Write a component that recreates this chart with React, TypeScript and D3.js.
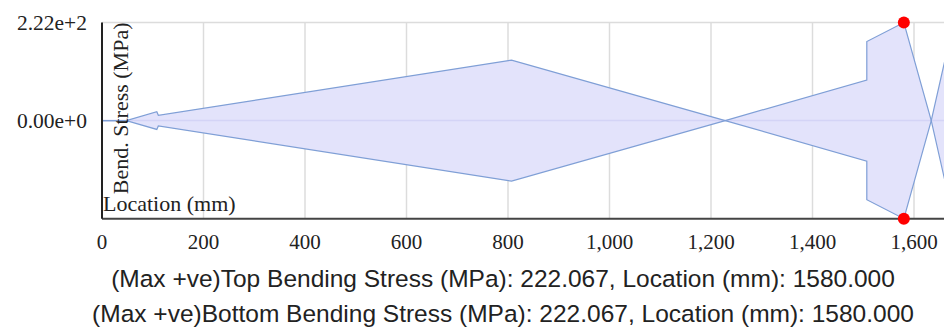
import React, { useRef, useEffect } from 'react'
import * as d3 from 'd3'

// location along the member (mm)
const locations = [0, 48, 108, 111, 807, 1228, 1507, 1507, 1580, 1634, 1662]
// top fibre bending stress (MPa)
const topStress = [0, 0, -20, -12, -137, 0, 92, 179, 222.067, 0, -142]
// bottom fibre bending stress (MPa)
const bottomStress = [0, 0, 20, 12, 137, 0, -92, -179, -222.067, 0, 142]

const yTicks = [0, 222.067]
const xTicks = [0, 200, 400, 600, 800, 1000, 1200, 1400, 1600]

const maxTop = { value: 222.067, location: 1580 }
const maxBottom = { value: 222.067, location: 1580 }

const App = () => {
  const svgRef = useRef<SVGSVGElement>(null)

  useEffect(() => {
    const svg = d3.select(svgRef.current)
    svg.selectAll('*').remove()

    const width = 944
    const height = 330
    const left = 102
    const top = 22.5
    const bottom = 218.7
    const serif = '"Liberation Serif", "Times New Roman", serif'
    const sans = '"Liberation Sans", Arial, sans-serif'

    svg.attr('width', width).attr('height', height)

    const x = d3.scaleLinear().domain([0, 1600]).range([left, 914])
    const y = d3.scaleLinear().domain([-222.067, 222.067]).range([bottom, top])

    // grid
    const grid = svg.append('g')
    grid
      .selectAll('line.vg')
      .data(xTicks.filter(d => d > 0))
      .enter()
      .append('line')
      .attr('x1', d => x(d))
      .attr('x2', d => x(d))
      .attr('y1', top)
      .attr('y2', bottom)
      .attr('stroke', '#dcdcdc')
      .attr('stroke-width', 1.5)
    grid
      .append('line')
      .attr('x1', left)
      .attr('x2', width)
      .attr('y1', y(222.067))
      .attr('y2', y(222.067))
      .attr('stroke', '#dcdcdc')
      .attr('stroke-width', 1.5)

    const pts = (vals: number[]) => locations.map((l, i) => ({ l, v: vals[i] }))
    const area = d3
      .area<{ l: number; v: number }>()
      .x(d => x(d.l))
      .y0(y(0))
      .y1(d => y(d.v))
    const line = d3
      .line<{ l: number; v: number }>()
      .x(d => x(d.l))
      .y(d => y(d.v))

    ;[topStress, bottomStress].forEach(s => {
      svg.append('path').datum(pts(s)).attr('d', area).attr('fill', '#e3e3fb').attr('stroke', 'none')
    })

    // zero line
    svg
      .append('line')
      .attr('x1', left)
      .attr('x2', width)
      .attr('y1', y(0))
      .attr('y2', y(0))
      .attr('stroke', '#d4d4f6')
      .attr('stroke-width', 1.5)

    ;[topStress, bottomStress].forEach(s => {
      svg
        .append('path')
        .datum(pts(s))
        .attr('d', line)
        .attr('fill', 'none')
        .attr('stroke', '#7f9fd6')
        .attr('stroke-width', 1.2)
    })

    // axes
    svg
      .append('line')
      .attr('x1', left)
      .attr('x2', width)
      .attr('y1', bottom)
      .attr('y2', bottom)
      .attr('stroke', '#444')
      .attr('stroke-width', 2)
    svg
      .append('line')
      .attr('x1', left)
      .attr('x2', left)
      .attr('y1', top)
      .attr('y2', bottom)
      .attr('stroke', '#222')
      .attr('stroke-width', 2)

    svg
      .selectAll('text.xt')
      .data(xTicks)
      .enter()
      .append('text')
      .attr('x', d => x(d))
      .attr('y', 249)
      .attr('text-anchor', 'middle')
      .attr('font-family', serif)
      .attr('font-size', 21)
      .attr('fill', '#222')
      .text(d => d3.format(',')(d))

    svg
      .selectAll('text.yt')
      .data(yTicks)
      .enter()
      .append('text')
      .attr('x', 87)
      .attr('y', d => y(d) + 7)
      .attr('text-anchor', 'end')
      .attr('font-family', serif)
      .attr('font-size', 21.5)
      .attr('fill', '#222')
      .text(d => d3.format('.2e')(d))

    // axis titles
    svg
      .append('text')
      .attr('transform', `translate(128, ${top}) rotate(-90)`)
      .attr('text-anchor', 'end')
      .attr('font-family', serif)
      .attr('font-size', 22)
      .attr('fill', '#222')
      .text('Bend. Stress (MPa)')
    svg
      .append('text')
      .attr('x', 103)
      .attr('y', 211)
      .attr('font-family', serif)
      .attr('font-size', 22)
      .attr('fill', '#222')
      .text('Location (mm)')

    // max markers
    svg
      .selectAll('circle.mx')
      .data([
        { l: maxTop.location, v: maxTop.value },
        { l: maxBottom.location, v: -maxBottom.value },
      ])
      .enter()
      .append('circle')
      .attr('cx', d => x(d.l))
      .attr('cy', d => y(d.v))
      .attr('r', 6)
      .attr('fill', '#ff0000')

    // summary
    const fmt = d3.format('.3f')
    svg
      .append('text')
      .attr('x', 503)
      .attr('y', 287)
      .attr('text-anchor', 'middle')
      .attr('font-family', sans)
      .attr('font-size', 24.5)
      .attr('fill', '#222')
      .text(`(Max +ve)Top Bending Stress (MPa): ${fmt(maxTop.value)}, Location (mm): ${fmt(maxTop.location)}`)
    svg
      .append('text')
      .attr('x', 503)
      .attr('y', 322)
      .attr('text-anchor', 'middle')
      .attr('font-family', sans)
      .attr('font-size', 24.5)
      .attr('fill', '#222')
      .text(`(Max +ve)Bottom Bending Stress (MPa): ${fmt(maxBottom.value)}, Location (mm): ${fmt(maxBottom.location)}`)
  }, [])

  return (
    <svg
      ref={svgRef}
      style={{ position: 'absolute', left: 0, top: 0, display: 'block' }}
    ></svg>
  )
}

export default App
